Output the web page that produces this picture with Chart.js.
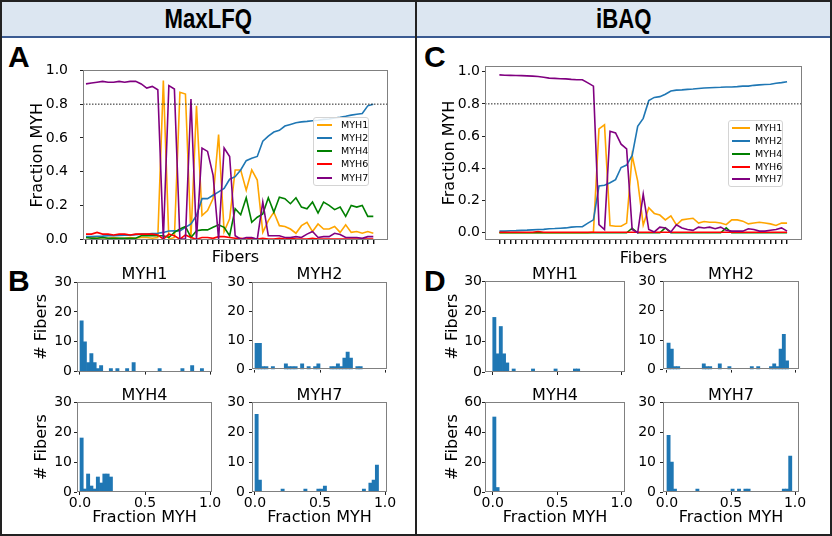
<!DOCTYPE html>
<html>
<head>
<meta charset="utf-8">
<script src="https://cdn.jsdelivr.net/npm/chart.js@4.4.0/dist/chart.umd.min.js"></script>
<style>
body { margin: 0; background: #fff; }
#fig { position: relative; width: 832px; height: 536px; overflow: hidden; font-family: "DejaVu Sans", sans-serif; }
#fig canvas, #fig .abs { position: absolute; }
.hdr { top: 2px; height: 34px; background: #dce6f1; border-bottom: 2px solid #3b5b92;
  display: flex; align-items: center; justify-content: center;
  font: bold 27px "Liberation Sans", Arial, sans-serif; }
.hdr span { display: inline-block; transform: scaleX(0.82); }
.letter { font: bold 30px/30px "Liberation Sans", Arial, sans-serif; }
.sub { font: 16px/16px "DejaVu Sans", sans-serif; text-align: center; }
.leg { border: 1px solid #d4d4d4; border-radius: 3px; background: rgba(255,255,255,0.85); box-sizing: border-box; }
.leg .row { position: absolute; font: 9.5px/10px "DejaVu Sans", sans-serif; }
.leg .sw { position: absolute; height: 2px; }
</style>
</head>
<body>
<div id="fig">
  <div class="abs" style="left:0;top:0;width:832px;height:536px;border:2px solid #222;box-sizing:border-box;"></div>
  <div class="abs hdr" style="left:2px;width:413px;"><span>MaxLFQ</span></div>
  <div class="abs hdr" style="left:417px;width:413px;"><span>iBAQ</span></div>
  <div class="abs" style="left:415px;top:0;width:2px;height:536px;background:#222;"></div>
  <div class="abs letter" style="left:8px;top:42px;">A</div>
  <div class="abs letter" style="left:8px;top:266px;">B</div>
  <div class="abs letter" style="left:424px;top:42px;">C</div>
  <div class="abs letter" style="left:424px;top:266px;">D</div>
</div>
<script>
// series
const names = ['MYH1', 'MYH2', 'MYH4', 'MYH6', 'MYH7'];
const colors = ['#ffa500', '#1f77b4', '#008000', '#ff0000', '#800080'];
const fibers = Array.from({length: 53}, (_, i) => i);
const threshold = 0.8;
const yTicksLine = [0, 0.2, 0.4, 0.6, 0.8, 1.0];
const xTicksHist = [0, 0.5, 1.0];

// MaxLFQ fractions per fiber
const lfqMyh1 = [0.01,0.01,0.005,0.01,0.005,0.01,0.005,0.005,0.01,0.005,0.01,0.01,0.005,0.01,
  0.94,0.0,0.01,0.87,0.86,0.01,0.79,0.14,0.17,0.24,0.62,0.045,0.12,
  0.41,0.41,0.29,0.41,0.35,0.04,0.11,0.16,0.08,0.075,0.06,0.035,0.08,
  0.10,0.045,0.09,0.06,0.06,0.075,0.04,0.085,0.04,0.045,0.035,0.045,0.035];
const lfqMyh2 = [0.015,0.015,0.017,0.018,0.02,0.02,0.022,0.024,0.024,0.027,0.03,0.03,0.033,0.035,
  0.04,0.048,0.049,0.049,0.07,0.09,0.14,0.24,0.24,0.26,0.28,0.30,0.355,
  0.37,0.41,0.465,0.48,0.49,0.58,0.61,0.635,0.645,0.67,0.68,0.69,0.695,
  0.698,0.702,0.705,0.71,0.712,0.718,0.722,0.728,0.735,0.74,0.745,0.79,0.80];
const lfqMyh4 = [0.01,0.005,0.005,0.01,0.005,0.005,0.005,0.005,0.005,0.005,0.02,0.02,0.02,0.02,
  0.02,0.01,0.04,0.06,0.075,0.01,0.05,0.055,0.055,0.07,0.085,0.07,0.02,
  0.18,0.145,0.245,0.10,0.13,0.15,0.245,0.16,0.248,0.24,0.21,0.245,0.19,
  0.18,0.22,0.155,0.22,0.20,0.175,0.19,0.135,0.20,0.19,0.20,0.135,0.135];
const lfqMyh6 = [0.03,0.03,0.04,0.03,0.03,0.025,0.03,0.03,0.025,0.03,0.03,0.03,0.03,0.025,
  0.0,0.03,0.02,0.0,0.025,0.01,0.0,0.01,0.01,0.005,0.015,0.015,0.01,
  0.005,0.005,0.0,0.005,0.0,0.005,0.0,0.0,0.005,0.0,0.005,0.0,0.0,
  0.0,0.005,0.0,0.0,0.0,0.0,0.0,0.0,0.0,0.0,0.0,0.0,0.0];
const lfqMyh7 = [0.92,0.925,0.93,0.935,0.93,0.93,0.935,0.93,0.935,0.935,0.92,0.895,0.905,0.885,
  0.0,0.91,0.89,0.0,0.0,0.83,0.0,0.54,0.52,0.38,0.0,0.54,0.49,
  0.02,0.0,0.01,0.01,0.0,0.22,0.02,0.02,0.02,0.01,0.01,0.015,0.01,
  0.03,0.045,0.01,0.015,0.015,0.035,0.028,0.01,0.01,0.01,0.005,0.015,0.015];

// iBAQ fractions per fiber
const ibaqMyh1 = [0,0,0,0,0,0,0,0,0,0,0,0,0,0,
  0,0,0,0.005,0.645,0.67,0.045,0.04,0.04,0.06,0.48,0.32,0.048,
  0.155,0.12,0.11,0.08,0.105,0.048,0.08,0.085,0.09,0.06,0.07,0.065,0.065,
  0.06,0.05,0.08,0.08,0.072,0.055,0.06,0.065,0.06,0.055,0.045,0.06,0.06];
const ibaqMyh2 = [0.01,0.01,0.012,0.013,0.015,0.016,0.018,0.02,0.021,0.025,0.026,0.028,0.03,0.035,
  0.037,0.038,0.06,0.08,0.29,0.295,0.31,0.33,0.405,0.42,0.48,0.66,0.71,
  0.82,0.84,0.845,0.86,0.88,0.885,0.887,0.89,0.892,0.895,0.898,0.90,0.902,
  0.903,0.905,0.905,0.907,0.91,0.91,0.915,0.918,0.92,0.922,0.928,0.932,0.937];
const ibaqMyh4 = [0,0,0,0,0,0,0,0,0,0,0,0,0,0,
  0,0,0,0,0,0,0,0,0,0,0.028,0,0,
  0,0,0,0.03,0,0,0,0,0,0,0,0,0,
  0,0.03,0,0,0,0,0,0,0,0,0,0,0];
const ibaqMyh6 = [0.003,0.003,0.003,0.003,0.003,0.003,0.003,0.008,0.003,0.003,0.003,0.003,0.003,0.003,
  0.003,0.003,0.003,0.003,0.003,0.003,0.003,0.003,0.003,0.003,0.003,0.003,0.003,
  0.003,0.003,0.003,0.003,0.003,0.003,0.003,0.003,0.003,0.003,0.003,0.003,0.003,
  0.003,0.003,0.003,0.003,0.003,0.003,0.003,0.003,0.003,0.003,0.003,0.003,0.003];
const ibaqMyh7 = [0.98,0.978,0.977,0.976,0.975,0.974,0.972,0.97,0.965,0.96,0.958,0.956,0.955,0.952,
  0.95,0.95,0.93,0.91,0.05,0.02,0.63,0.62,0.55,0.52,0.02,0.0,0.24,
  0.02,0.005,0.035,0.03,0.005,0.05,0.03,0.02,0.015,0.035,0.03,0.035,0.025,
  0.035,0.015,0.01,0.01,0.01,0.025,0.02,0.01,0.01,0.015,0.02,0.03,0.01];

// histograms: bin index (width 0.025) and number of fibers
const binWidth = 0.025;
const lfqH1Bins = [0,1,2,3,4,5,6,9,11,14,16,24,31,34,37];
const lfqH1Counts = [17,10,3,6,3,1,2,1,1,1,3,1,1,2,1];
const lfqH2Bins = [0,1,2,3,5,9,10,11,12,14,16,18,19,23,24,25,26,27,28,29,31,32];
const lfqH2Counts = [9,9,1,1,1,2,1,1,1,2,1,1,2,1,1,2,1,4,6,4,1,1];
const lfqH4Bins = [0,1,2,3,4,5,6,7,8,9];
const lfqH4Counts = [18,1,6,2,1,5,3,6,6,5];
const lfqH7Bins = [0,1,8,15,19,20,21,33,35,36,37];
const lfqH7Counts = [26,4,1,1,1,1,2,1,3,4,9];
const ibaqH1Bins = [0,1,2,3,4,6,12,19,25,26];
const ibaqH1Counts = [18,6,15,6,3,1,1,1,1,1];
const ibaqH2Bins = [0,1,2,3,11,12,13,16,19,26,28,32,33,34,35,36,37];
const ibaqH2Counts = [9,7,1,1,2,1,1,2,1,1,1,1,2,1,7,12,3];
const ibaqH4Bins = [0,1];
const ibaqH4Counts = [50,3];
const ibaqH7Bins = [0,1,2,9,20,22,24,25,36,37,38];
const ibaqH7Counts = [19,10,1,1,1,1,1,1,1,1,12];

Chart.defaults.font.family = 'DejaVu Sans';
Chart.defaults.color = '#000';
const fontTick = {family: 'DejaVu Sans', size: 14};
const fontTitle = {family: 'DejaVu Sans', size: 16};
const fig = document.getElementById('fig');

// box around the plot area, like matplotlib spines
const framePlugin = {
  id: 'frame',
  afterDatasetsDraw(chart) {
    const {ctx, chartArea: a} = chart;
    ctx.save();
    ctx.strokeStyle = '#808080';
    ctx.lineWidth = 1;
    ctx.strokeRect(Math.round(a.left) + 0.5, Math.round(a.top) + 0.5, Math.round(a.width) - 1, Math.round(a.height) - 1);
    ctx.restore();
  }
};

// frame = [left, top, right, bottom] of plot area, m = [L, T, R, B] room around it
function addCanvas(frame, m) {
  const c = document.createElement('canvas');
  c.width = frame[2] - frame[0] + m[0] + m[2];
  c.height = frame[3] - frame[1] + m[1] + m[3];
  c.style.left = (frame[0] - m[0]) + 'px';
  c.style.top = (frame[1] - m[1]) + 'px';
  fig.appendChild(c);
  return c;
}

function addText(cls, text, left, top, width) {
  const d = document.createElement('div');
  d.className = 'abs ' + cls;
  d.textContent = text;
  d.style.left = left + 'px';
  d.style.top = top + 'px';
  if (width) d.style.width = width + 'px';
  fig.appendChild(d);
}

function lineChart(frame, m, series, o) {
  const datasets = names.map((n, k) => ({
    label: n, data: series[k], borderColor: colors[k], borderWidth: 1.6,
    pointRadius: 0, tension: 0, fill: false, order: names.length - k
  }));
  datasets.push({
    label: 'threshold', data: [{x: o.xMin, y: threshold}, {x: o.xMax, y: threshold}],
    borderColor: '#222', borderWidth: 1, borderDash: [1.5, 1.5], pointRadius: 0, order: 0
  });
  new Chart(addCanvas(frame, m), {
    type: 'line',
    data: {labels: fibers, datasets},
    options: {
      responsive: false, animation: false, events: [],
      layout: {padding: {top: m[1], right: m[2], left: 0, bottom: 0}},
      plugins: {legend: {display: false}, tooltip: {enabled: false}},
      scales: {
        x: {
          type: 'linear', min: o.xMin, max: o.xMax,
          grid: {drawOnChartArea: false, tickLength: 4, color: '#111', lineWidth: 1.4},
          border: {display: false},
          ticks: {display: false},
          afterBuildTicks: s => { s.ticks = fibers.map(v => ({value: v})); },
          afterFit: s => { s.height = m[3]; },
          title: {display: true, text: 'Fibers', font: fontTitle, padding: {top: 0, bottom: o.xtPad}}
        },
        y: {
          min: o.yMin, max: o.yMax,
          grid: {drawOnChartArea: false, tickLength: 3, color: '#222'},
          border: {display: false},
          ticks: {font: fontTick, padding: o.ytPad, callback: v => v.toFixed(1)},
          afterBuildTicks: s => { s.ticks = yTicksLine.map(v => ({value: v})); },
          afterFit: s => { s.width = m[0]; },
          title: {display: true, text: 'Fraction MYH', font: fontTitle, padding: {top: o.ylPad, bottom: 0}}
        }
      }
    },
    plugins: [framePlugin]
  });
}

function histChart(frame, m, bins, counts, o) {
  new Chart(addCanvas(frame, m), {
    type: 'bar',
    data: {datasets: [{
      data: bins.map((b, i) => ({x: (b + 0.5) * binWidth, y: counts[i]})),
      backgroundColor: '#1f77b4', borderWidth: 0, barPercentage: 1, categoryPercentage: 1
    }]},
    options: {
      responsive: false, animation: false, events: [],
      layout: {padding: {top: m[1], right: m[2], left: 0, bottom: 0}},
      plugins: {legend: {display: false}, tooltip: {enabled: false}},
      scales: {
        x: {
          type: 'linear', min: o.xMin, max: o.xMax, offset: false,
          grid: {offset: false, drawOnChartArea: false, tickLength: 3, color: '#222'},
          border: {display: false},
          ticks: {display: o.bottom, font: fontTick, padding: 0, maxRotation: 0, callback: v => v.toFixed(1)},
          afterBuildTicks: s => { s.ticks = xTicksHist.map(v => ({value: v})); },
          afterFit: s => { s.height = m[3]; },
          title: {display: o.bottom, text: 'Fraction MYH', font: fontTitle, padding: {top: 0, bottom: 3}}
        },
        y: {
          min: 0, max: o.yMax,
          grid: {drawOnChartArea: false, tickLength: 3, color: '#222'},
          border: {display: false},
          ticks: {font: fontTick, padding: o.ytPad, stepSize: o.yMax / 3},
          afterFit: s => { s.width = m[0]; },
          title: {display: o.ylPad !== undefined, text: '# Fibers', font: fontTitle, padding: {top: o.ylPad || 0, bottom: 0}}
        }
      }
    },
    plugins: [framePlugin]
  });
}

function legendBox(left, top, w, h, rowTop, rowGap, swX, swW, txX) {
  const box = document.createElement('div');
  box.className = 'abs leg';
  Object.assign(box.style, {left: left + 'px', top: top + 'px', width: w + 'px', height: h + 'px'});
  names.forEach((n, k) => {
    const cy = rowTop + rowGap * k;
    const sw = document.createElement('div');
    sw.className = 'sw';
    Object.assign(sw.style, {left: swX + 'px', top: (cy - 1) + 'px', width: swW + 'px', background: colors[k]});
    const tx = document.createElement('div');
    tx.className = 'row';
    tx.textContent = n;
    Object.assign(tx.style, {left: txX + 'px', top: (cy - 5) + 'px'});
    box.appendChild(sw);
    box.appendChild(tx);
  });
  fig.appendChild(box);
}

// A: MaxLFQ lines
lineChart([83, 63, 388, 240], [83, 13, 20, 32],
  [lfqMyh1, lfqMyh2, lfqMyh4, lfqMyh6, lfqMyh7],
  {xMin: -0.54, xMax: 54.66, yMin: -0.005, yMax: 1.0, ytPad: 12, ylPad: 28, xtPad: 5});
legendBox(313, 117, 56, 69, 6.5, 13.3, 3, 15, 27);

// C: iBAQ lines
lineChart([485, 66, 802, 240], [65, 16, 24, 32],
  [ibaqMyh1, ibaqMyh2, ibaqMyh4, ibaqMyh6, ibaqMyh7],
  {xMin: -2.6, xMax: 54.7, yMin: -0.045, yMax: 1.035, ytPad: 2, ylPad: 20, xtPad: 4});
legendBox(728, 120, 55, 67, 7.3, 12.75, 3, 18, 26);

// B: MaxLFQ histograms
const bLim = {xMin: -0.023, xMax: 1.015};
histChart([77, 282, 212, 372], [57, 12, 16, 10], lfqH1Bins, lfqH1Counts, {...bLim, yMax: 30, ytPad: 2, ylPad: 12, bottom: false});
histChart([252, 282, 387, 372], [35, 12, 16, 10], lfqH2Bins, lfqH2Counts, {...bLim, yMax: 30, ytPad: 4, bottom: false});
histChart([77, 402, 212, 492], [57, 12, 16, 38], lfqH4Bins, lfqH4Counts, {...bLim, yMax: 30, ytPad: 2, ylPad: 12, bottom: true});
histChart([252, 402, 387, 492], [35, 12, 16, 38], lfqH7Bins, lfqH7Counts, {...bLim, yMax: 30, ytPad: 4, bottom: true});

// D: iBAQ histograms
const dLeft = {xMin: -0.06, xMax: 1.026};
const dRight = {xMin: -0.031, xMax: 1.031};
histChart([485, 281, 625, 372], [60, 12, 16, 10], ibaqH1Bins, ibaqH1Counts, {...dLeft, yMax: 30, ytPad: 0, ylPad: 18, bottom: false});
histChart([663, 281, 799, 372], [35, 12, 16, 10], ibaqH2Bins, ibaqH2Counts, {...dRight, yMax: 30, ytPad: 4, bottom: false});
histChart([485, 402, 625, 492], [60, 12, 16, 38], ibaqH4Bins, ibaqH4Counts, {...dLeft, yMax: 60, ytPad: 0, ylPad: 18, bottom: true});
histChart([663, 402, 799, 492], [35, 12, 16, 38], ibaqH7Bins, ibaqH7Counts, {...dRight, yMax: 30, ytPad: 4, bottom: true});

// subplot titles
addText('sub', 'MYH1', 77, 266, 135);
addText('sub', 'MYH2', 252, 266, 135);
addText('sub', 'MYH4', 77, 387, 135);
addText('sub', 'MYH7', 252, 387, 135);
addText('sub', 'MYH1', 485, 266, 140);
addText('sub', 'MYH2', 663, 266, 136);
addText('sub', 'MYH4', 485, 387, 140);
addText('sub', 'MYH7', 663, 387, 136);
</script>
</body>
</html>
